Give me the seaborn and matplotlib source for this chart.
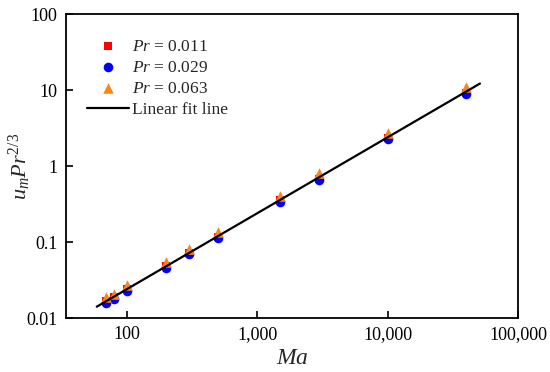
import numpy as np
import matplotlib
matplotlib.use("Agg")
import matplotlib.pyplot as plt
from matplotlib.ticker import FixedLocator, FuncFormatter, NullLocator
import seaborn as sns
import pandas as pd

# Data
ma = [70, 80, 100, 200, 300, 500, 1500, 3000, 10000, 40000]
pr_011 = [0.017, 0.019, 0.024, 0.048, 0.072, 0.118, 0.355, 0.68, 2.35, 9.3]
pr_029 = [0.016, 0.018, 0.023, 0.046, 0.069, 0.113, 0.34, 0.65, 2.26, 9.0]
pr_063 = [0.019, 0.021, 0.027, 0.055, 0.081, 0.135, 0.41, 0.81, 2.7, 11.0]
fit_ma = [59, 51000]
fit_val = [0.0141, 12.2]

labels = [r"$Pr$ = 0.011", r"$Pr$ = 0.029", r"$Pr$ = 0.063"]
colours = ["#ff0000", "#0000ff", "#f7861c"]
markers = ["s", "o", "^"]
sizes = [28, 48, 58]

sns.set_theme(style="ticks")
plt.rcParams["font.family"] = ["Liberation Serif", "DejaVu Serif"]
plt.rcParams["mathtext.fontset"] = "custom"
plt.rcParams["mathtext.rm"] = "Liberation Serif"
plt.rcParams["mathtext.it"] = "Liberation Serif:italic"

fig = plt.figure(figsize=(5.5, 3.72), dpi=100)
ax = fig.add_axes([0.12, 0.145, 0.822, 0.817])

for vals, lab, col, mk, sz in zip([pr_011, pr_029, pr_063], labels, colours, markers, sizes):
    df = pd.DataFrame({"Ma": ma, "val": vals})
    sns.scatterplot(
        data=df, x="Ma", y="val", ax=ax, color=col, marker=mk,
        s=sz, edgecolor=col, linewidth=0, label=lab, zorder=2,
    )

fit = pd.DataFrame({"Ma": fit_ma, "val": fit_val})
sns.lineplot(data=fit, x="Ma", y="val", ax=ax, color="black", lw=1.6,
             label="Linear fit line", zorder=3)

ax.set_xscale("log")
ax.set_yscale("log")
ax.set_xlim(34.3, 100000)
ax.set_ylim(0.01, 100)

ax.xaxis.set_major_locator(FixedLocator([100, 1000, 10000, 100000]))
ax.xaxis.set_minor_locator(NullLocator())
ax.yaxis.set_major_locator(FixedLocator([0.01, 0.1, 1, 10, 100]))
ax.yaxis.set_minor_locator(NullLocator())
ax.xaxis.set_major_formatter(FuncFormatter(lambda v, p: f"{v:,.0f}"))
ax.yaxis.set_major_formatter(FuncFormatter(lambda v, p: f"{v:g}"))
ax.tick_params(direction="in", length=5, width=1.2, labelsize=13,
               colors="black", pad=6)

for sp in ax.spines.values():
    sp.set_linewidth(1.3)
    sp.set_color("black")

ax.set_xlabel(r"$Ma$", fontsize=17, labelpad=3)
ax.set_ylabel(r"$u_m Pr^{2/3}$", fontsize=16)
ax.yaxis.set_label_coords(-0.072, 0.5)

ax.legend(loc="upper left", frameon=False, fontsize=12.5,
          bbox_to_anchor=(0.02, 0.96), handlelength=2.4,
          handletextpad=0.2, labelspacing=0.28, borderpad=0.2)

fig.savefig("out.png", dpi=100)
